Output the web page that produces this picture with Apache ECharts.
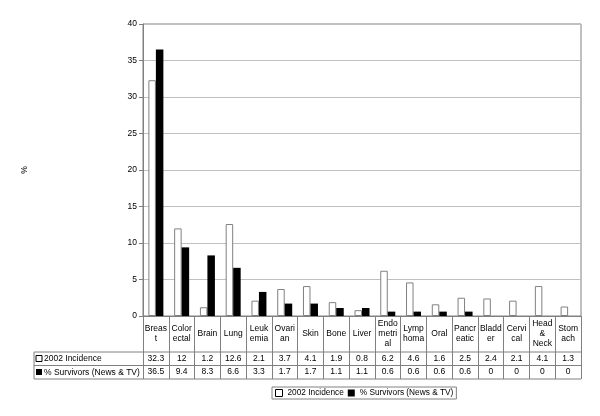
<!DOCTYPE html>
<html>
<head>
<meta charset="utf-8">
<script src="https://cdn.jsdelivr.net/npm/echarts@6/dist/echarts.min.js"></script>
<style>
  html, body { margin: 0; padding: 0; background: #fff; }
  #chart { width: 600px; height: 416px; }
</style>
</head>
<body>
<div id="chart"></div>
<script>
// cancer types (wrapped as in the data table)
var categories = ['Breas\nt', 'Color\nectal', 'Brain', 'Lung', 'Leuk\nemia', 'Ovari\nan', 'Skin', 'Bone', 'Liver',
  'Endo\nmetri\nal', 'Lymp\nhoma', 'Oral', 'Pancr\neatic', 'Bladd\ner', 'Cervi\ncal', 'Head\n&\nNeck', 'Stom\nach'];
var incidence = [32.3, 12, 1.2, 12.6, 2.1, 3.7, 4.1, 1.9, 0.8, 6.2, 4.6, 1.6, 2.5, 2.4, 2.1, 4.1, 1.3];
var survivors = [36.5, 9.4, 8.3, 6.6, 3.3, 1.7, 1.7, 1.1, 1.1, 0.6, 0.6, 0.6, 0.6, 0, 0, 0, 0];
var seriesNames = ['2002 Incidence', '% Survivors (News & TV)'];

var font = 'Liberation Sans, Arial, sans-serif';
var gray = '#808080';
var fs = 8.5;

var chart = echarts.init(document.getElementById('chart'));

// table rows drawn under the plot
var tableLeft = 34, tableRight = 581;
var rowY = [352, 365.5, 379];

chart.setOption({
  animation: false,
  textStyle: { fontFamily: font },
  grid: { left: 143, right: 19, top: 24, bottom: 100, show: true, borderColor: gray, borderWidth: 1 },
  legend: {
    left: 272, top: 387,
    itemWidth: 7, itemHeight: 7, itemGap: 4,
    padding: [2, 3, 2, 3],
    borderColor: gray, borderWidth: 1,
    textStyle: { fontSize: 8.3, color: '#000', fontFamily: font },
    data: [
      { name: seriesNames[0], icon: 'rect', itemStyle: { color: '#fff', borderColor: '#000', borderWidth: 1 } },
      { name: seriesNames[1], icon: 'rect', itemStyle: { color: '#000' } }
    ]
  },
  xAxis: [
    {
      type: 'category', data: categories,
      axisLine: { show: true, lineStyle: { color: gray } },
      axisTick: { show: true, inside: false, alignWithLabel: false, length: 63, interval: 0, lineStyle: { color: gray } },
      axisLabel: { interval: 0, margin: 18, verticalAlign: 'middle', lineHeight: 10, fontSize: fs, color: '#000', fontFamily: font }
    },
    {
      type: 'category', data: incidence.map(String), position: 'bottom', offset: 36,
      axisLine: { show: false }, axisTick: { show: false },
      axisLabel: { interval: 0, margin: 6.5, verticalAlign: 'middle', fontSize: fs, color: '#000', fontFamily: font }
    },
    {
      type: 'category', data: survivors.map(String), position: 'bottom', offset: 49.5,
      axisLine: { show: false }, axisTick: { show: false },
      axisLabel: { interval: 0, margin: 6.5, verticalAlign: 'middle', fontSize: fs, color: '#000', fontFamily: font }
    }
  ],
  yAxis: {
    type: 'value', min: 0, max: 40, interval: 5,
    name: '%', nameLocation: 'middle', nameGap: 114,
    nameTextStyle: { fontSize: fs, color: '#000', fontFamily: font },
    axisLine: { show: true, lineStyle: { color: gray } },
    axisTick: { show: true, length: 4, lineStyle: { color: gray } },
    axisLabel: { fontSize: fs, color: '#000', margin: 6, fontFamily: font },
    splitLine: { lineStyle: { color: '#c0c0c0' } }
  },
  series: [
    {
      name: seriesNames[0], type: 'bar', data: incidence, xAxisIndex: 0,
      barWidth: 7.5, barGap: '0%',
      itemStyle: { color: '#fff', borderColor: gray, borderWidth: 1 }
    },
    {
      name: seriesNames[1], type: 'bar', data: survivors, xAxisIndex: 0,
      barWidth: 7.5,
      itemStyle: { color: '#000' }
    }
  ],
  graphic: [
    { type: 'line', shape: { x1: tableLeft, y1: rowY[0], x2: tableRight, y2: rowY[0] }, style: { stroke: gray, lineWidth: 1 } },
    { type: 'line', shape: { x1: tableLeft, y1: rowY[1], x2: tableRight, y2: rowY[1] }, style: { stroke: gray, lineWidth: 1 } },
    { type: 'line', shape: { x1: tableLeft, y1: rowY[2], x2: tableRight, y2: rowY[2] }, style: { stroke: gray, lineWidth: 1 } },
    { type: 'line', shape: { x1: tableLeft, y1: rowY[0], x2: tableLeft, y2: rowY[2] }, style: { stroke: gray, lineWidth: 1 } },
    { type: 'rect', shape: { x: 36, y: 355.5, width: 6, height: 6 }, style: { fill: '#fff', stroke: '#000', lineWidth: 1 } },
    { type: 'rect', shape: { x: 36, y: 369, width: 6, height: 6 }, style: { fill: '#000' } },
    { type: 'text', x: 44, y: (rowY[0] + rowY[1]) / 2, style: { text: seriesNames[0], fontSize: fs, fill: '#000', font: fs + 'px ' + font, verticalAlign: 'middle' } },
    { type: 'text', x: 44, y: (rowY[1] + rowY[2]) / 2, style: { text: seriesNames[1], fontSize: fs, fill: '#000', font: fs + 'px ' + font, verticalAlign: 'middle' } }
  ]
});
</script>
</body>
</html>
